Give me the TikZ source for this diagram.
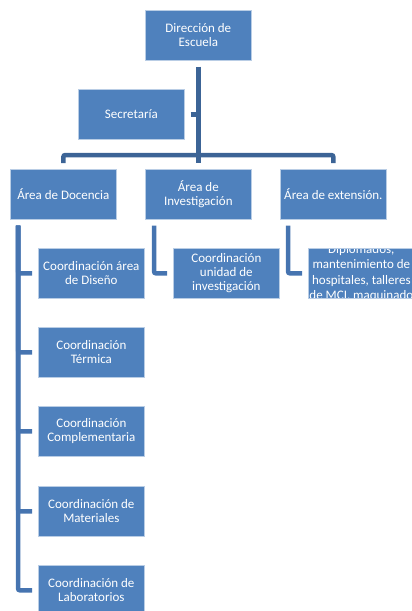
\documentclass[tikz,border=0pt]{standalone}
\usepackage{fontspec}
\setmainfont{Carlito}
\definecolor{boxblue}{HTML}{4F81BD}
\definecolor{boxedge}{HTML}{B9CDE5}
\definecolor{trunkblue}{HTML}{3C6496}
\definecolor{branchblue}{HTML}{4674B0}
\tikzset{
  orgbox/.style={rectangle, fill=boxblue, draw=boxedge, line width=0.7pt,
    minimum width=106pt, minimum height=50pt, inner sep=0pt,
    text=white, align=center, anchor=north west,
    font=\fontsize{13}{14}\selectfont},
  trunk/.style={draw=trunkblue, line width=4.5pt, rounded corners=2pt},
  branch/.style={draw=branchblue, line width=4.5pt, rounded corners=2pt},
}
\begin{document}
\begin{tikzpicture}[x=1pt, y=-1pt]
\useasboundingbox (0,0) rectangle (412,611);
\clip (0,0) rectangle (412,611);

% top levels
\node[orgbox] (dir) at (145,10) {Dirección de\\Escuela};
\node[orgbox] (sec) at (78,89) {Secretaría};
\node[orgbox] (doc) at (10,169) {Área de Docencia};
\node[orgbox] (inv) at (145,169) {Área de\\Investigación};
\node[orgbox] (ext) at (280,169) {Área de extensión.};

% docencia coordinations
\node[orgbox] (c1) at (38,248) {Coordinación área\\de Diseño};
\node[orgbox] (c2) at (38,327) {Coordinación\\Térmica};
\node[orgbox] (c3) at (38,406) {Coordinación\\Complementaria};
\node[orgbox] (c4) at (38,486) {Coordinación de\\Materiales};
\node[orgbox] (c5) at (38,565) {Coordinación de\\Laboratorios};

% research and extension units; the long extension text is clipped to its box
\node[orgbox] (ci) at (173,248) {Coordinación\\unidad de\\investigación};
\node[orgbox, path picture={
    \node[anchor=center, inner sep=0pt, text=white, align=center,
          font=\fontsize{13}{15.5}\selectfont]
      at ([yshift=0.5pt]path picture bounding box.center)
      {Diplomados,\\mantenimiento de\\hospitales, talleres\\de MCI, maquinado};
  }] (ce) at (308,248) {};

% main trunk, assistant stub and bar to the areas
\draw[trunk] ([yshift=-6pt]dir.south) -- ([yshift=6pt]inv.north);
\draw[trunk] ([xshift=6pt]sec.east) -- (sec.east -| dir.south);
\draw[trunk] ([yshift=6pt]doc.north) |- (dir.south |- 0,155) -| ([yshift=6pt]ext.north);

% docencia spine
\coordinate (dl) at ([xshift=8pt,yshift=-6pt]doc.south west);
\foreach \c in {c1,c2,c3,c4,c5}
  \draw[branch] (dl) |- ([xshift=-6pt]\c.west);

% single-child branches
\draw[branch] ([xshift=9pt,yshift=-6pt]inv.south west) |- ([xshift=-6pt]ci.west);
\draw[branch] ([xshift=8pt,yshift=-6pt]ext.south west) |- ([xshift=-6pt]ce.west);
\end{tikzpicture}
\end{document}
